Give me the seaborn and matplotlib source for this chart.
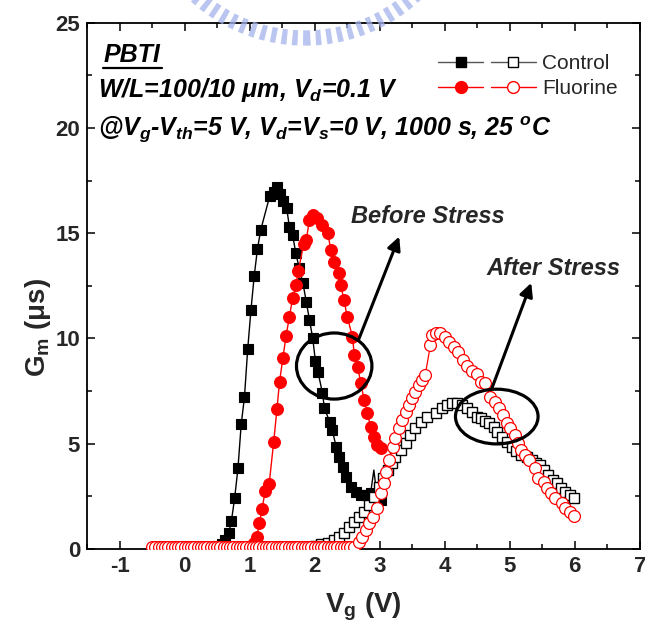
import matplotlib
matplotlib.use("Agg")
import matplotlib.pyplot as plt
import seaborn as sns
from matplotlib.patches import Ellipse, Circle
from matplotlib.lines import Line2D
from matplotlib.legend_handler import HandlerTuple
from matplotlib.transforms import IdentityTransform

# ---- measured transconductance data ----
# Control, before stress
vg_ctrl_fresh = [0.45, 0.52, 0.57, 0.62, 0.68, 0.72, 0.77, 0.82, 0.87, 0.92, 0.97, 1.02,
                 1.07, 1.12, 1.17, 1.31, 1.37, 1.42, 1.47, 1.52, 1.57, 1.61, 1.66, 1.71,
                 1.76, 1.82, 1.87, 1.92, 1.97, 2.01, 2.05, 2.12, 2.15, 2.23, 2.27, 2.33,
                 2.37, 2.43, 2.48, 2.56, 2.63, 2.71, 2.79, 2.86, 2.91, 2.96, 3.02]
gm_ctrl_fresh = [0.05, 0.12, 0.25, 0.43, 0.77, 1.34, 2.44, 3.83, 5.92, 7.21, 9.49, 11.35,
                 12.97, 14.25, 15.15, 16.78, 16.97, 17.21, 16.86, 16.55, 16.19, 15.31, 14.92, 14.05,
                 13.36, 12.62, 11.75, 10.88, 10.01, 8.95, 8.42, 7.40, 6.68, 6.05, 5.65, 4.86,
                 4.38, 3.91, 3.43, 2.96, 2.72, 2.57, 2.57, 2.65, 3.75, 2.45, 2.35]
ctrl_fresh_glitch = [44]  # single noisy sample, shown on the line only

# Fluorine, before stress
vg_fl_fresh = [0.95, 1.02, 1.07, 1.11, 1.15, 1.19, 1.24, 1.30, 1.37, 1.42, 1.46, 1.51,
               1.56, 1.61, 1.66, 1.71, 1.75, 1.83, 1.87, 1.92, 1.97, 2.04, 2.12, 2.20,
               2.25, 2.30, 2.37, 2.40, 2.45, 2.50, 2.58, 2.61, 2.66, 2.71, 2.76, 2.81,
               2.86, 2.91, 2.96, 3.02]
gm_fl_fresh = [0.05, 0.15, 0.30, 0.58, 1.22, 1.89, 2.77, 3.09, 5.10, 6.65, 7.95, 9.06,
               10.12, 11.01, 11.91, 12.54, 13.22, 14.49, 14.68, 15.63, 15.87, 15.71, 15.39, 15.00,
               14.20, 13.65, 13.10, 12.54, 11.83, 11.04, 10.09, 9.22, 8.66, 7.87, 7.08, 6.45,
               5.81, 5.34, 4.94, 4.78]

# Control, after stress
vg_ctrl_stress = [1.90, 2.00, 2.10, 2.20, 2.30, 2.37, 2.45, 2.53, 2.61, 2.68, 2.76, 2.84,
                  2.91, 2.99, 3.05, 3.12, 3.19, 3.24, 3.32, 3.40, 3.47, 3.55, 3.63, 3.73,
                  3.86, 3.96, 4.04, 4.11, 4.19, 4.26, 4.34, 4.42, 4.49, 4.55, 4.62, 4.68,
                  4.75, 4.81, 4.88, 4.95, 5.03, 5.10, 5.18, 5.26, 5.34, 5.40, 5.47, 5.53,
                  5.59, 5.66, 5.72, 5.79, 5.85, 5.92, 5.98]
gm_ctrl_stress = [0.10, 0.15, 0.22, 0.30, 0.42, 0.58, 0.75, 1.06, 1.30, 1.53, 1.77, 2.09,
                  2.48, 2.96, 3.36, 3.75, 4.07, 4.38, 4.70, 5.02, 5.42, 5.73, 6.05, 6.29,
                  6.45, 6.68, 6.84, 6.92, 6.92, 6.84, 6.68, 6.52, 6.29, 6.21, 6.10, 5.97,
                  5.81, 5.55, 5.34, 5.10, 4.86, 4.65, 4.47, 4.35, 4.23, 4.10, 3.99, 3.75,
                  3.52, 3.30, 3.12, 2.90, 2.72, 2.55, 2.41]

# Fluorine, after stress
vg_fl_stress = [-0.50, -0.45, -0.40, -0.35, -0.30, -0.25, -0.20, -0.15, -0.10, -0.05,
                0.00, 0.05, 0.10, 0.15, 0.20, 0.25, 0.30, 0.35, 0.40, 0.45,
                0.50, 0.55, 0.60, 0.65, 0.70, 0.75, 0.80, 0.85, 0.90, 0.95,
                1.00, 1.05, 1.10, 1.15, 1.20, 1.25, 1.30, 1.35, 1.40, 1.45,
                1.50, 1.55, 1.60, 1.65, 1.70, 1.75, 1.80, 1.85, 1.90, 1.95,
                2.00, 2.05, 2.10, 2.15, 2.20, 2.25, 2.30, 2.35, 2.40, 2.45,
                2.50, 2.55, 2.61, 2.68, 2.73, 2.79, 2.84, 2.89, 2.96, 3.02,
                3.07, 3.10, 3.15, 3.20, 3.24, 3.30, 3.35, 3.40, 3.45, 3.50,
                3.55, 3.60, 3.65, 3.70, 3.78, 3.81, 3.87, 3.93, 4.00, 4.06,
                4.14, 4.21, 4.28, 4.34, 4.42, 4.49, 4.55, 4.62, 4.70, 4.78,
                4.83, 4.90, 4.95, 5.01, 5.08, 5.13, 5.18, 5.24, 5.29, 5.39,
                5.44, 5.52, 5.57, 5.64, 5.70, 5.80, 5.85, 5.93, 5.98]
gm_fl_stress = [0.10, 0.10, 0.10, 0.10, 0.10, 0.10, 0.10, 0.10, 0.10, 0.10,
                0.10, 0.10, 0.10, 0.10, 0.10, 0.10, 0.10, 0.10, 0.10, 0.10,
                0.10, 0.10, 0.10, 0.10, 0.10, 0.10, 0.10, 0.10, 0.10, 0.10,
                0.10, 0.10, 0.10, 0.10, 0.10, 0.10, 0.10, 0.10, 0.10, 0.10,
                0.10, 0.10, 0.10, 0.10, 0.10, 0.10, 0.10, 0.10, 0.10, 0.10,
                0.10, 0.10, 0.10, 0.10, 0.10, 0.10, 0.10, 0.10, 0.10, 0.10,
                0.10, 0.10, 0.11, 0.35, 0.58, 0.90, 1.22, 1.53, 1.93, 2.65,
                3.12, 3.67, 4.23, 4.86, 5.26, 5.73, 6.13, 6.52, 6.84, 7.16,
                7.47, 7.79, 8.03, 8.27, 9.69, 10.17, 10.25, 10.25, 10.09, 9.85,
                9.61, 9.37, 9.00, 8.70, 8.45, 8.30, 7.95, 7.87, 7.24, 7.00,
                6.68, 6.37, 5.97, 5.73, 5.42, 5.02, 4.70, 4.47, 4.23, 3.83,
                3.36, 3.20, 2.88, 2.65, 2.41, 2.17, 1.93, 1.77, 1.57]

x_ticks = [-1, 0, 1, 2, 3, 4, 5, 6, 7]
y_ticks = [0, 5, 10, 15, 20, 25]

# ---- style ----
sns.set_theme(style="ticks")
plt.rcParams["font.family"] = ["Liberation Sans", "DejaVu Sans"]
plt.rcParams["mathtext.fontset"] = "custom"
plt.rcParams["mathtext.rm"] = "Liberation Sans:bold"
plt.rcParams["mathtext.bf"] = "Liberation Sans:bold"
plt.rcParams["mathtext.it"] = "Liberation Sans:bold:italic"

fig = plt.figure(figsize=(6.45, 6.38), dpi=100)
ax = fig.add_axes([0.135, 0.1395, 0.857, 0.825])

RED = "#ff0000"
common = dict(ax=ax, estimator=None, sort=False, legend=False)

sns.lineplot(x=vg_ctrl_fresh, y=gm_ctrl_fresh, color="black", lw=1.0,
             marker="s", markersize=7.5, mfc="black", mec="black", mew=0.8,
             markevery=[i for i in range(len(vg_ctrl_fresh)) if i not in ctrl_fresh_glitch],
             zorder=3, **common)
sns.lineplot(x=vg_fl_fresh, y=gm_fl_fresh, color=RED, lw=1.0,
             marker="o", markersize=8.5, mfc=RED, mec=RED, mew=0.8, zorder=4, **common)
sns.lineplot(x=vg_ctrl_stress, y=gm_ctrl_stress, color="black", lw=1.0,
             marker="s", markersize=7.5, mfc="white", mec="black", mew=1.0, zorder=5, **common)
sns.lineplot(x=vg_fl_stress, y=gm_fl_stress, color=RED, lw=0.9,
             marker="o", markersize=8.5, mfc="white", mec=RED, mew=0.9, zorder=6, **common)

# ---- axes ----
ax.set_xlim(-1.5, 7)
ax.set_ylim(0, 25)
ax.set_xticks(x_ticks)
ax.set_yticks(y_ticks)
ax.set_xticks([v + 0.5 for v in range(-2, 7)], minor=True)
ax.set_yticks([2.5, 7.5, 12.5, 17.5, 22.5], minor=True)
ax.set_xticklabels([str(v) for v in x_ticks], fontsize=16, fontweight="bold")
ax.set_yticklabels([str(v) for v in y_ticks], fontsize=16, fontweight="bold")
ax.tick_params(which="both", direction="in", top=True, right=True, width=1.1, color="black")
ax.tick_params(which="major", length=6, pad=5)
ax.tick_params(which="minor", length=3.5)
for s in ax.spines.values():
    s.set_linewidth(1.3)
    s.set_color("black")

ax.set_xlabel(r"$\mathrm{V_g}$ (V)", fontsize=20, fontweight="bold", labelpad=10)
ax.set_ylabel(r"$\mathrm{G_m}$ (μs)", fontsize=20, fontweight="bold")
ax.yaxis.set_label_coords(-0.062, 0.42)

# ---- annotations ----
tkw = dict(transform=ax.transAxes, fontsize=18, fontweight="bold", fontstyle="italic",
           ha="left", va="baseline", color="black")
ax.text(0.029, 0.925, "PBTI", **tkw)
ax.plot([0.029, 0.135], [0.914, 0.914], transform=ax.transAxes, color="black", lw=1.6,
        clip_on=False)
ax.text(0.019, 0.859, r"W/L=100/10 μm, $V_d$=0.1 V", **tkw)
ax.text(0.019, 0.785, r"@$V_g$-$V_{th}$=5 V, $V_d$=$V_s$=0 V, 1000 s, 25 $^o$C", **tkw)

ax.text(2.56, 15.5, "Before Stress", fontsize=17, fontweight="bold", fontstyle="italic",
        ha="left", va="baseline")
ax.text(4.64, 13.0, "After Stress", fontsize=17, fontweight="bold", fontstyle="italic",
        ha="left", va="baseline")

ax.add_patch(Ellipse((2.30, 8.69), 1.16, 3.14, fill=False, lw=2.3, color="black", zorder=7))
ax.add_patch(Ellipse((4.80, 6.29), 1.27, 2.60, fill=False, lw=2.3, color="black", zorder=7))
arrow = dict(arrowstyle="-|>", lw=2.2, color="black", mutation_scale=20, shrinkA=0, shrinkB=0)
ax.annotate("", xy=(3.30, 14.84), xytext=(2.67, 9.90), arrowprops=arrow, zorder=7)
ax.annotate("", xy=(5.33, 12.64), xytext=(4.72, 7.59), arrowprops=arrow, zorder=7)

# ---- legend ----
h_cf = Line2D([], [], color="#555555", lw=1.0, marker="s", markersize=7.5,
              mfc="black", mec="black")
h_cs = Line2D([], [], color="#555555", lw=1.0, marker="s", markersize=7.5,
              mfc="white", mec="black")
h_ff = Line2D([], [], color=RED, lw=1.0, marker="o", markersize=8.5, mfc=RED, mec=RED)
h_fs = Line2D([], [], color=RED, lw=1.0, marker="o", markersize=8.5, mfc="white", mec=RED)
ax.legend([(h_cf, h_cs), (h_ff, h_fs)], ["Control", "Fluorine"],
          handler_map={tuple: HandlerTuple(ndivide=None, pad=0.35)},
          loc="upper left", bbox_to_anchor=(0.635, 0.940), frameon=False,
          fontsize=15, handlelength=4.7, handletextpad=0.3, labelspacing=0.3,
          borderpad=0, borderaxespad=0)

# ---- faint seal printed at the top of the page ----
seal = Circle((305, 638 + 124), 162, transform=IdentityTransform(), fill=False,
              lw=11, color="#a3b3ea", ls=(0, (0.35, 0.35)), alpha=0.75, zorder=10)
fig.add_artist(seal)

fig.savefig("out.png", dpi=100)
